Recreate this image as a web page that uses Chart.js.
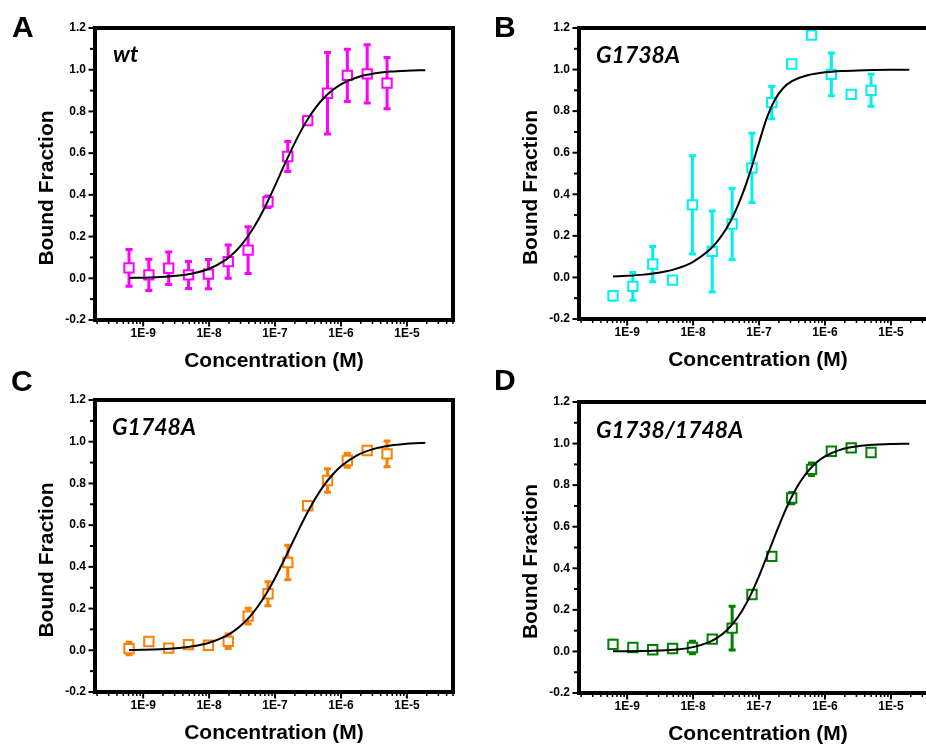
<!DOCTYPE html>
<html><head><meta charset="utf-8">
<script src="https://cdn.jsdelivr.net/npm/chart.js@4/dist/chart.umd.min.js"></script>
<style>
html,body{margin:0;padding:0;background:#fff;}
body{width:926px;height:745px;overflow:hidden;position:relative;}
canvas{position:absolute;}
</style></head><body>
<canvas id="cA" width="470" height="382" style="left:0px;top:0px"></canvas>
<canvas id="cB" width="490" height="382" style="left:463px;top:0px"></canvas>
<canvas id="cC" width="470" height="395" style="left:0px;top:350px"></canvas>
<canvas id="cD" width="490" height="395" style="left:463px;top:350px"></canvas>
<script>
// ---- data ----
const concentrations = [6.1e-10, 1.22e-9, 2.44e-9, 4.88e-9, 9.77e-9, 1.95e-8, 3.91e-8, 7.81e-8, 1.56e-7, 3.13e-7, 6.25e-7, 1.25e-6, 2.5e-6, 5e-6];

const wtBound   = [0.05, 0.016, 0.048, 0.016, 0.02, 0.08, 0.135, 0.367, 0.584, 0.756, 0.887, 0.973, 0.98, 0.936];
const wtError   = [0.088, 0.075, 0.078, 0.065, 0.07, 0.08, 0.112, 0.028, 0.072, 0.015, 0.195, 0.125, 0.14, 0.123];

const g1738Bound = [-0.088, -0.043, 0.064, -0.013, 0.349, 0.125, 0.257, 0.527, 0.841, 1.027, 1.166, 0.977, 0.881, 0.9];
const g1738Error = [0.02, 0.067, 0.085, 0.012, 0.236, 0.195, 0.171, 0.167, 0.077, 0.012, 0.012, 0.103, 0.015, 0.077];

const g1748Bound = [0.008, 0.042, 0.01, 0.027, 0.024, 0.043, 0.164, 0.271, 0.421, 0.693, 0.814, 0.91, 0.958, 0.942];
const g1748Error = [0.03, 0.01, 0.012, 0.015, 0.012, 0.035, 0.038, 0.058, 0.083, 0.01, 0.056, 0.033, 0.012, 0.062];

const doubleBound = [0.034, 0.019, 0.008, 0.014, 0.019, 0.059, 0.112, 0.274, 0.457, 0.738, 0.876, 0.963, 0.979, 0.957];
const doubleError = [0.02, 0.01, 0.015, 0.01, 0.03, 0.012, 0.105, 0.012, 0.012, 0.027, 0.03, 0.01, 0.015, 0.015];

// fitted curves
const fitConcentrations = [6.1e-10, 1e-9, 1.78e-9, 3.16e-9, 5.62e-9, 1e-8, 1.78e-8, 2.37e-8, 3.16e-8, 4.22e-8, 5.62e-8, 7.5e-8, 1e-7, 1.33e-7, 1.78e-7, 2.37e-7, 3.16e-7, 4.22e-7, 5.62e-7, 7.5e-7, 1e-6, 1.78e-6, 3.16e-6, 5.62e-6, 1e-5, 1.9e-5];
const wtFit     = [0.0016, 0.0029, 0.0058, 0.0117, 0.0233, 0.0459, 0.0885, 0.121, 0.164, 0.218, 0.283, 0.360, 0.444, 0.532, 0.617, 0.696, 0.765, 0.822, 0.868, 0.903, 0.930, 0.964, 0.982, 0.991, 0.9955, 0.998];
const g1738Fit  = [0.0046, 0.0076, 0.0135, 0.0239, 0.0424, 0.0752, 0.1328, 0.1762, 0.2331, 0.3071, 0.4015, 0.5176, 0.6487, 0.7722, 0.8612, 0.914, 0.944, 0.962, 0.974, 0.981, 0.9866, 0.9928, 0.9961, 0.9978, 0.9988, 0.9994];
const g1748Fit  = [0.0015, 0.00265, 0.0051, 0.0099, 0.0189, 0.0361, 0.0678, 0.0919, 0.1236, 0.1641, 0.2146, 0.2754, 0.3464, 0.4246, 0.5066, 0.5883, 0.6657, 0.735, 0.7942, 0.843, 0.882, 0.9355, 0.9656, 0.982, 0.9906, 0.9955];
const doubleFit = [0.0004, 0.0008, 0.0018, 0.0040, 0.0092, 0.0207, 0.0459, 0.0676, 0.0986, 0.1418, 0.1995, 0.2732, 0.362, 0.4615, 0.564, 0.661, 0.7465, 0.8164, 0.870, 0.910, 0.9386, 0.972, 0.9875, 0.9945, 0.9976, 0.999];

const yTickValues = [-0.2, 0, 0.2, 0.4, 0.6, 0.8, 1.0, 1.2];
const xTickValues = [1e-9, 1e-8, 1e-7, 1e-6, 1e-5];
const xTickLabels = ['1E-9', '1E-8', '1E-7', '1E-6', '1E-5'];
const panelLetters = ['A', 'B', 'C', 'D'];
const sampleNames = ['wt', 'G1738A', 'G1748A', 'G1738/1748A'];
const xAxisTitle = 'Concentration (M)';
const yAxisTitle = 'Bound Fraction';

// ---- layout / style ----
const panels = [
  {id:'cA', letter:0, name:0, bound:wtBound, err:wtError, fit:wtFit, color:'#FF00FF',
   area:{l:95,t:28,r:453,b:320}, W:470, H:382, letterPos:[12,37], namePos:[113,62], nameItalicOnly:false},
  {id:'cB', letter:1, name:1, bound:g1738Bound, err:g1738Error, fit:g1738Fit, color:'#00F0F0',
   area:{l:116,t:28,r:474,b:319}, W:490, H:382, letterPos:[31,37], namePos:[133,63]},
  {id:'cC', letter:2, name:2, bound:g1748Bound, err:g1748Error, fit:g1748Fit, color:'#FF8000',
   area:{l:95,t:50,r:453,b:342}, W:470, H:395, letterPos:[11,40.5], namePos:[112,85]},
  {id:'cD', letter:3, name:3, bound:doubleBound, err:doubleError, fit:doubleFit, color:'#008000',
   area:{l:116,t:52,r:474,b:343}, W:490, H:395, letterPos:[31,40], namePos:[133,88]}
];
const X_MIN = 1.86e-10, X_MAX = 5.0e-5;
const TICK_FONT = {family:'"Liberation Sans", Arial, sans-serif', size:12, weight:'bold'};

function makeDecor(p){
  return {
    id:'decor'+p.id,
    beforeDatasetsDraw(chart){
      const {ctx, scales:{x,y}} = chart;
      ctx.save();
      ctx.strokeStyle = p.color; ctx.lineWidth = 3; ctx.lineCap = 'butt';
      p.bound.forEach((v,i)=>{
        const e = p.err[i];
        const px = x.getPixelForValue(concentrations[i]);
        const t = y.getPixelForValue(v+e), b = y.getPixelForValue(v-e);
        ctx.beginPath();
        ctx.moveTo(px,t); ctx.lineTo(px,b);
        ctx.moveTo(px-3.5,t); ctx.lineTo(px+3.5,t);
        ctx.moveTo(px-3.5,b); ctx.lineTo(px+3.5,b);
        ctx.stroke();
      });
      ctx.restore();
    },
    afterDraw(chart){
      const {ctx, chartArea:a, scales:{x,y}} = chart;
      ctx.save();
      // ticks on left axis
      ctx.strokeStyle = '#000';
      ctx.lineWidth = 2;
      for (let v = -0.2; v <= 1.2001; v += 0.1) {
        const py = y.getPixelForValue(v);
        const major = Math.abs(Math.round(v*10) % 2) === 0;
        ctx.beginPath(); ctx.moveTo(a.left - (major?6.5:5), py); ctx.lineTo(a.left, py); ctx.stroke();
      }
      // ticks on bottom axis
      for (let d = -10; d <= -4; d++) {
        for (let k = 1; k <= 9; k++) {
          const val = k * Math.pow(10, d);
          if (val < X_MIN || val > X_MAX) continue;
          const px = x.getPixelForValue(val);
          const major = k === 1;
          ctx.lineWidth = major ? 2 : 1.5;
          ctx.beginPath(); ctx.moveTo(px, a.bottom); ctx.lineTo(px, a.bottom + (major?6.5:4)); ctx.stroke();
        }
      }
      // frame
      ctx.lineWidth = 4;
      ctx.strokeRect(a.left, a.top, a.right - a.left, a.bottom - a.top);
      // y title
      ctx.fillStyle = '#000';
      ctx.font = 'bold 21px "Liberation Sans", Arial, sans-serif';
      ctx.translate(a.left - 42, (a.top + a.bottom)/2 + 14);
      ctx.rotate(-Math.PI/2);
      ctx.textAlign = 'center'; ctx.textBaseline = 'alphabetic';
      ctx.fillText(yAxisTitle, 0, 0);
      ctx.setTransform(1,0,0,1,0,0);
      // panel letter
      ctx.textAlign = 'left';
      ctx.font = 'bold 30px "Liberation Sans", Arial, sans-serif';
      ctx.fillText(panelLetters[p.letter], p.letterPos[0], p.letterPos[1]);
      // sample name
      ctx.font = 'italic bold 23px Lato, "Open Sans", sans-serif';
      ctx.fillText(sampleNames[p.name], p.namePos[0], p.namePos[1]);
      ctx.restore();
    }
  };
}

panels.forEach(p=>{
  const ctx = document.getElementById(p.id);
  new Chart(ctx, {
    type:'line',
    data:{
      datasets:[
        {label:'fit', data: fitConcentrations.map((c,i)=>({x:c, y:p.fit[i]})),
         borderColor:'#000', borderWidth:2, pointRadius:0, fill:false,
         cubicInterpolationMode:'monotone', clip:false},
        {label:'data', data: concentrations.map((c,i)=>({x:c, y:p.bound[i]})),
         showLine:false, pointStyle:'rect', pointRadius:6.6, pointBorderWidth:2,
         pointBorderColor:p.color, pointBackgroundColor:'#fff', borderColor:p.color, clip:false}
      ]
    },
    options:{
      responsive:false, animation:false, events:[],
      layout:{padding:{left:0, top:p.area.t, right:p.W - p.area.r, bottom:p.H - p.area.b - 52}},
      plugins:{legend:{display:false}, tooltip:{enabled:false}},
      scales:{
        x:{type:'logarithmic', min:X_MIN, max:X_MAX,
           afterBuildTicks(s){ s.ticks = xTickValues.map(v=>({value:v})); },
           afterFit(s){ s.height = 52; },
           grid:{display:false, drawTicks:false}, border:{display:false},
           ticks:{autoSkip:false, maxRotation:0, padding:6, color:'#000', font:TICK_FONT,
                  callback:(v,i)=>xTickLabels[i]},
           title:{display:true, text:xAxisTitle, color:'#000', padding:{top:0,bottom:0},
                  font:{family:'"Liberation Sans", Arial, sans-serif', size:21, weight:'bold', lineHeight:1}}
        },
        y:{type:'linear', min:-0.2, max:1.2,
           afterBuildTicks(s){ s.ticks = yTickValues.map(v=>({value:v})); },
           afterFit(s){ s.width = p.area.l; },
           grid:{display:false, drawTicks:false}, border:{display:false},
           ticks:{padding:9, color:'#000', font:TICK_FONT, callback:(v)=>Number(v).toFixed(1)}
        }
      }
    },
    plugins:[makeDecor(p)]
  });
});
</script>
</body></html>
